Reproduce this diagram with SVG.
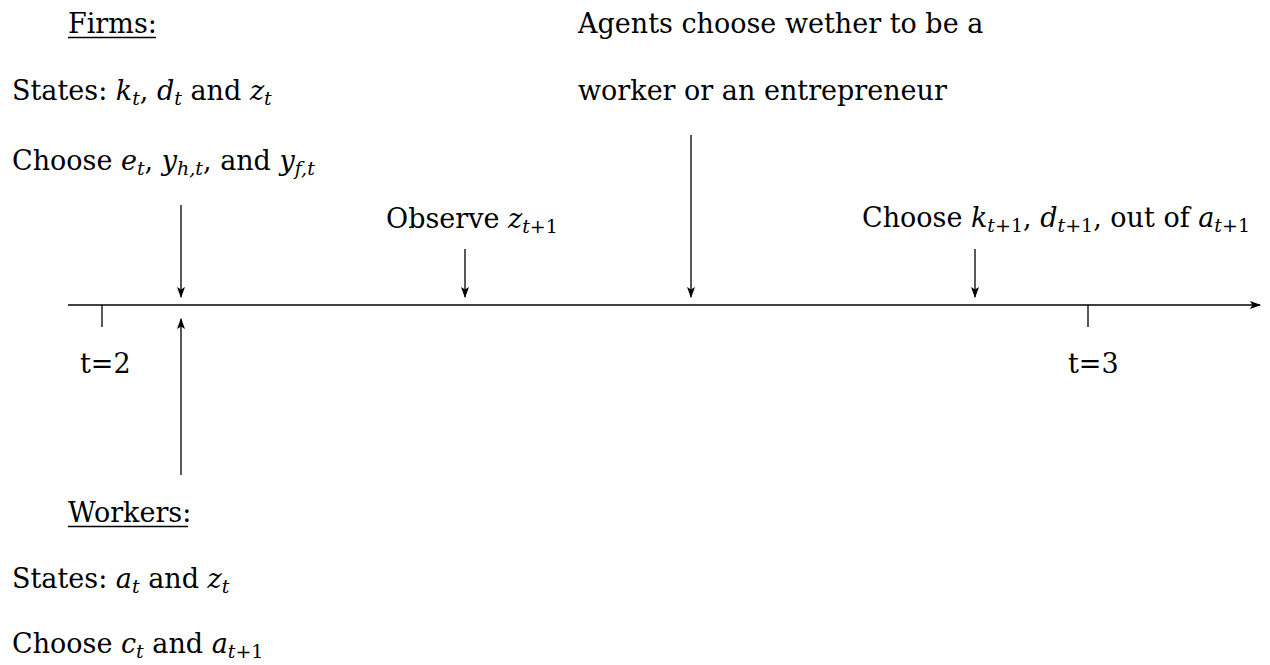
<svg xmlns="http://www.w3.org/2000/svg" width="1270" height="665" viewBox="0 0 1270 665">
<defs>
<marker id="ah" markerWidth="12" markerHeight="12" refX="10" refY="6" orient="auto" markerUnits="userSpaceOnUse">
<path d="M0,2 L11,6 L0,10 L2.5,6 Z" fill="#000"/>
</marker>
<style>
text{font-family:"DejaVu Serif","Liberation Serif",serif;font-size:27px;fill:#000}
.i{font-style:italic}
.s{font-size:19px}
.ln{stroke:#000;stroke-width:1.3;fill:none}
</style>
</defs>
<rect width="1270" height="665" fill="#fff"/>
<g id="connectors">
<line class="ln" x1="68" y1="305" x2="1260" y2="305" marker-end="url(#ah)"/>
<line class="ln" x1="102" y1="305" x2="102" y2="327"/>
<line class="ln" x1="1088" y1="305" x2="1088" y2="327"/>
<line class="ln" x1="181" y1="205" x2="181" y2="297" marker-end="url(#ah)"/>
<line class="ln" x1="181" y1="475" x2="181" y2="319" marker-end="url(#ah)"/>
<line class="ln" x1="465" y1="249" x2="465" y2="297" marker-end="url(#ah)"/>
<line class="ln" x1="691" y1="135" x2="691" y2="297" marker-end="url(#ah)"/>
<line class="ln" x1="975" y1="249" x2="975" y2="297" marker-end="url(#ah)"/>
</g>
<g id="firms">
<text x="68" y="33">Firms:</text>
<line class="ln" x1="68" y1="37.5" x2="156" y2="37.5"/>
<text x="12" y="100">States: <tspan class="i">k</tspan><tspan class="i s" dy="5">t</tspan><tspan dy="-5">, </tspan><tspan class="i">d</tspan><tspan class="i s" dy="5">t</tspan><tspan dy="-5"> and </tspan><tspan class="i">z</tspan><tspan class="i s" dy="5">t</tspan></text>
<text x="12" y="170">Choose <tspan class="i">e</tspan><tspan class="i s" dy="5">t</tspan><tspan dy="-5">, </tspan><tspan class="i">y</tspan><tspan class="i s" dy="5">h,t</tspan><tspan dy="-5">, and </tspan><tspan class="i">y</tspan><tspan class="i s" dy="5">f,t</tspan></text>
</g>
<g id="agents">
<text x="578" y="33">Agents choose wether to be a</text>
<text x="578" y="100">worker or an entrepreneur</text>
</g>
<g id="observe">
<text x="386" y="228">Observe <tspan class="i">z</tspan><tspan class="s" dy="5"><tspan class="i">t</tspan>+1</tspan></text>
</g>
<g id="choose-next">
<text x="862" y="227">Choose <tspan class="i">k</tspan><tspan class="s" dy="5"><tspan class="i">t</tspan>+1</tspan><tspan dy="-5">, </tspan><tspan class="i">d</tspan><tspan class="s" dy="5"><tspan class="i">t</tspan>+1</tspan><tspan dy="-5">, out of </tspan><tspan class="i">a</tspan><tspan class="s" dy="5"><tspan class="i">t</tspan>+1</tspan></text>
</g>
<g id="t2"><text x="80" y="373">t=2</text></g>
<g id="t3"><text x="1068" y="373">t=3</text></g>
<g id="workers">
<text x="68" y="522">Workers:</text>
<line class="ln" x1="68" y1="526.5" x2="188" y2="526.5"/>
<text x="12" y="588">States: <tspan class="i">a</tspan><tspan class="i s" dy="5">t</tspan><tspan dy="-5"> and </tspan><tspan class="i">z</tspan><tspan class="i s" dy="5">t</tspan></text>
<text x="12" y="653">Choose <tspan class="i">c</tspan><tspan class="i s" dy="5">t</tspan><tspan dy="-5"> and </tspan><tspan class="i">a</tspan><tspan class="s" dy="5"><tspan class="i">t</tspan>+1</tspan></text>
</g>
</svg>
